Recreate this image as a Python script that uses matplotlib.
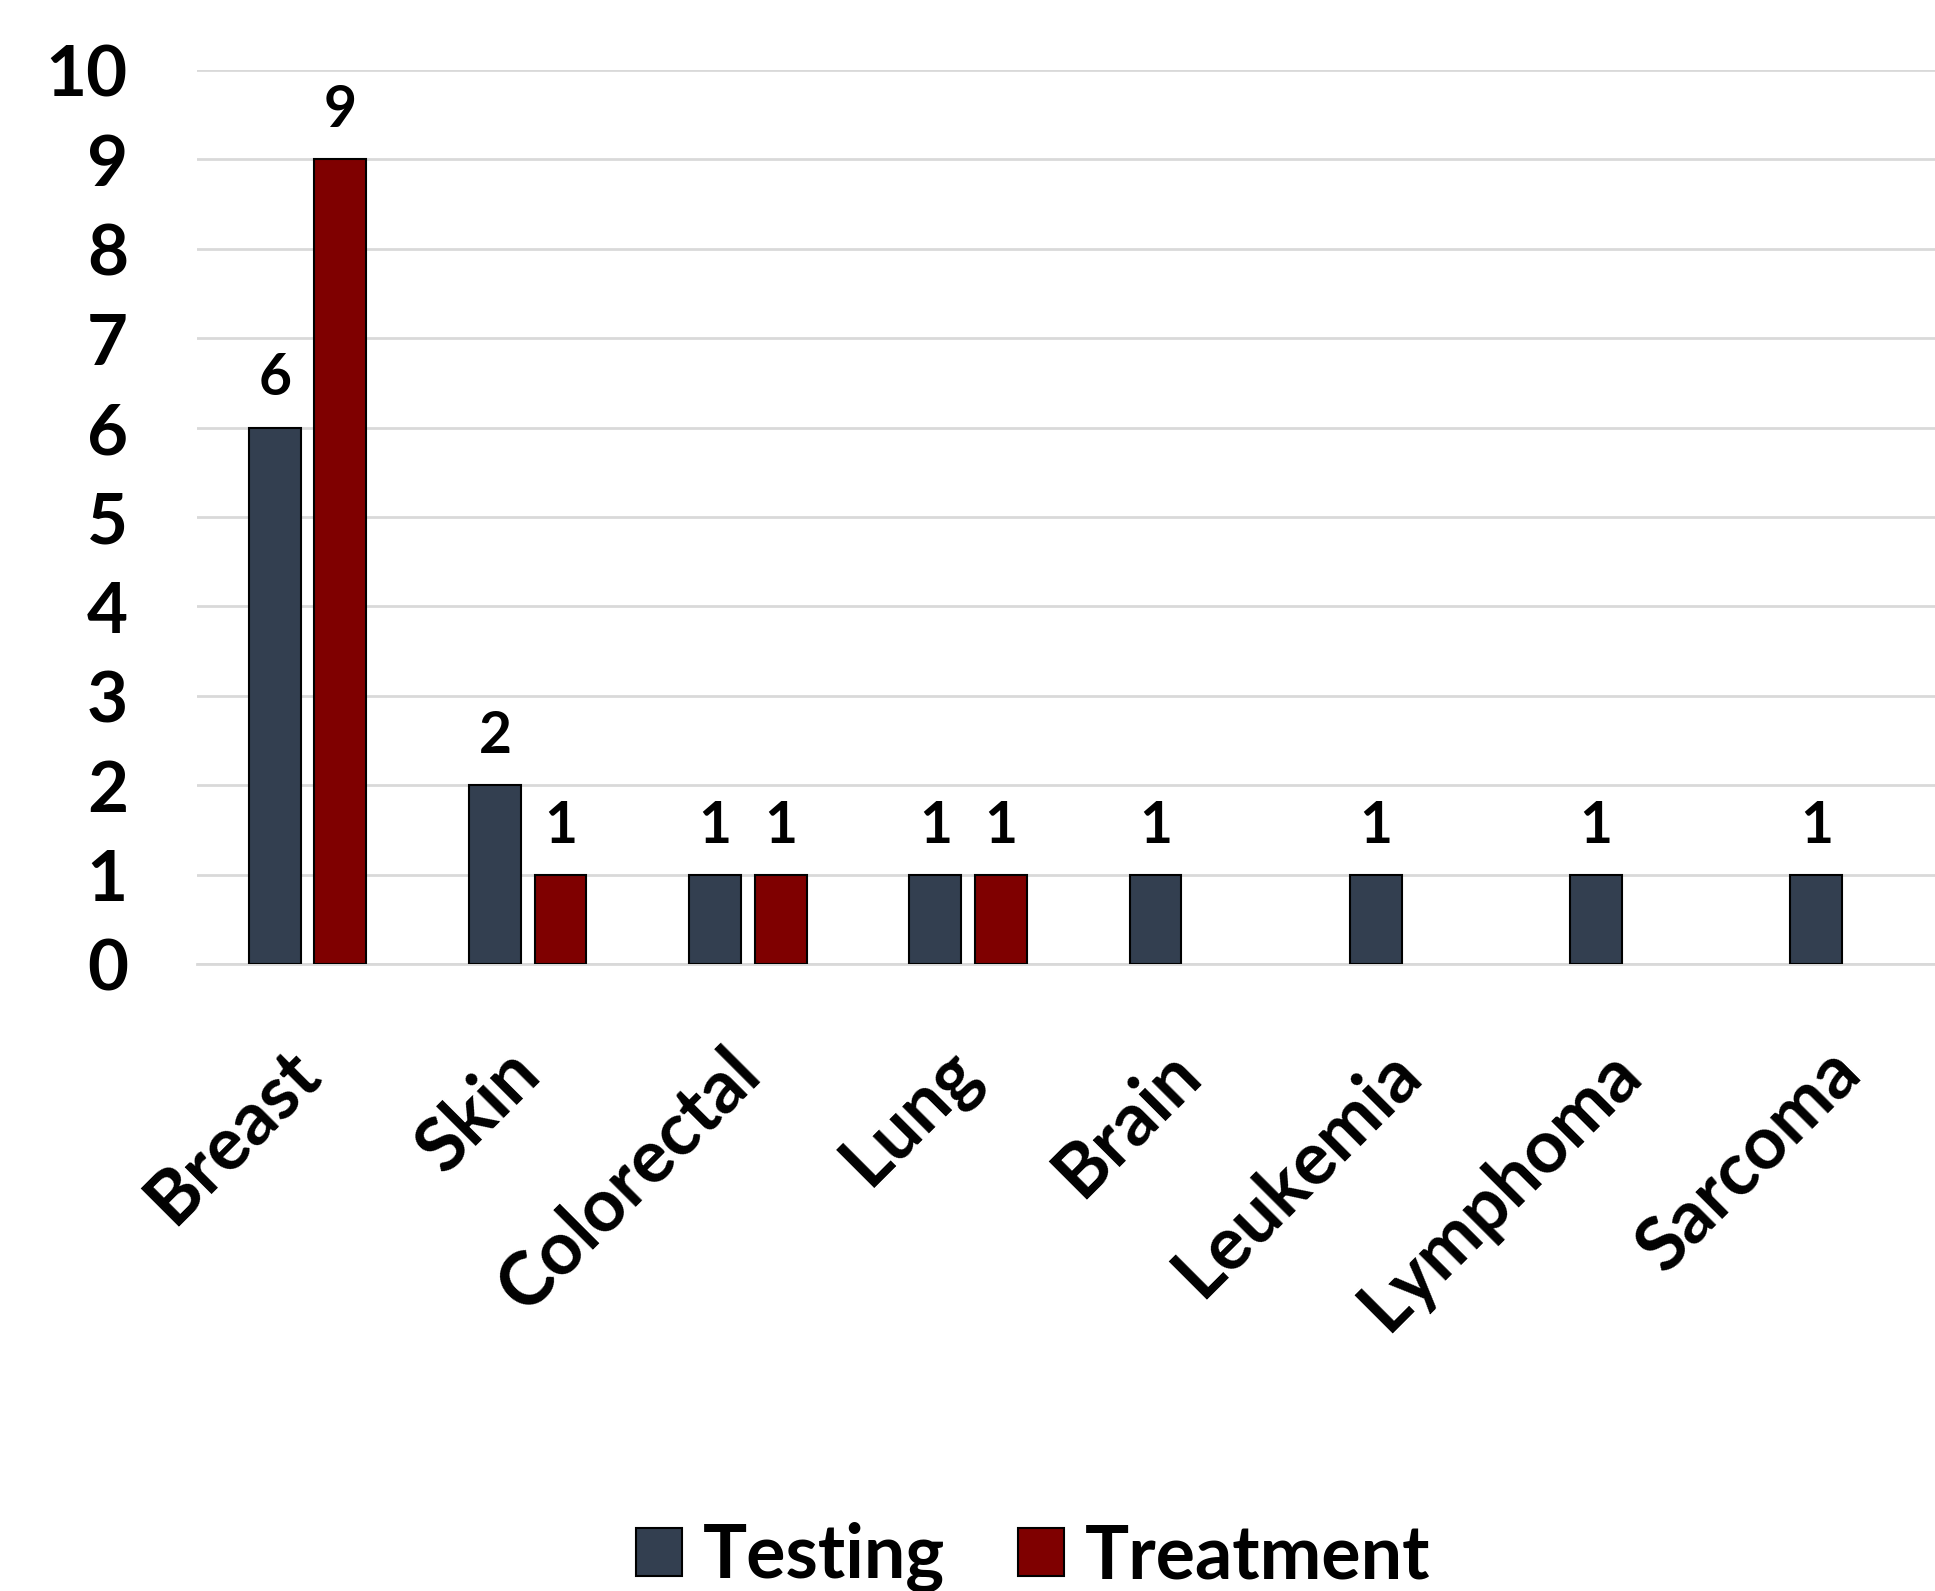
import numpy as np
from matplotlib import pyplot as plt

# datos del grafico
categorias = ["Breast", "Skin", "Colorectal", "Lung", "Brain", "Leukemia", "Lymphoma", "Sarcoma"]
testing = [6, 2, 1, 1, 1, 1, 1, 1]
treatment = [9, 1, 1, 1, 0, 0, 0, 0]
yticks = [0, 1, 2, 3, 4, 5, 6, 7, 8, 9, 10]

color_testing = "#333f50"
color_treatment = "#7f0000"

plt.rcParams['font.family'] = ['Lato', 'DejaVu Sans']
plt.rcParams['font.weight'] = 'bold'

fig = plt.figure(figsize=(19.35, 15.91), dpi=100)
ax = fig.add_axes([0.102, 0.394, 0.898, 0.562])

x = np.arange(len(categorias))
ancho = 0.235
desp = 0.149

b1 = ax.bar(x - desp, testing, ancho, color=color_testing, edgecolor="black",
            linewidth=1.5, label="Testing", zorder=3)

# solo se dibujan las barras de tratamiento distintas de cero
x_t = [xi for xi, v in zip(x, treatment) if v > 0]
v_t = [v for v in treatment if v > 0]
b2 = ax.bar(np.array(x_t) + desp, v_t, ancho, color=color_treatment, edgecolor="black",
            linewidth=1.5, label="Treatment", zorder=3)

ax.bar_label(b1, padding=16, fontsize=41, fontweight="bold")
ax.bar_label(b2, padding=16, fontsize=41, fontweight="bold")

ax.set_ylim(0, 10)
ax.set_xlim(-0.5, 7.39)
ax.set_yticks(yticks)
ax.set_yticklabels([str(t) for t in yticks], fontsize=51, fontweight="bold")
ax.set_xticks(x)
ax.set_xticklabels(categorias, fontsize=53, fontweight="bold", rotation=45,
                   ha="right", va="center", rotation_mode="anchor")
ax.tick_params(axis="y", length=0, pad=50)
ax.tick_params(axis="x", length=0, pad=70)

ax.yaxis.grid(True, color="#d9d9d9", linewidth=2, zorder=0)
ax.set_axisbelow(True)
for s in ["top", "right", "left"]:
    ax.spines[s].set_visible(False)
ax.spines["bottom"].set_color("#d9d9d9")
ax.spines["bottom"].set_linewidth(2)

fig.legend(handles=[b1, b2], loc="center", bbox_to_anchor=(0.534, 0.021), ncol=2,
           frameon=False, handlelength=0.62, handleheight=0.62,
           handletextpad=0.28, columnspacing=1.0,
           prop={"weight": "bold", "size": 53})

fig.savefig("out.png", dpi=100)
